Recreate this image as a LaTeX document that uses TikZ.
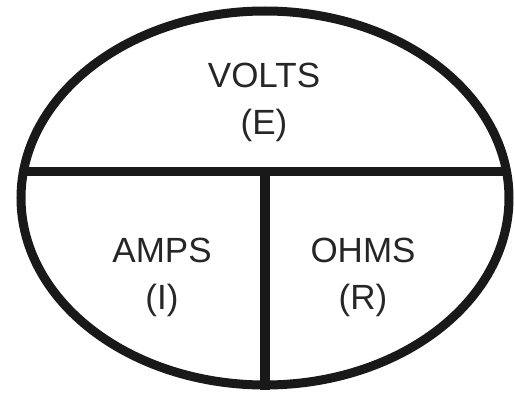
\documentclass[tikz,border=0pt]{standalone}
\usepackage{fontspec}
\setmainfont{Liberation Sans}
\usetikzlibrary{shapes.geometric}
\tikzset{
  outline/.style={draw=black!90, line width=9pt},
  bar/.style={draw=black!90, line width=9.5pt},
  lbl/.style={inner sep=0pt, align=center, text=black!85, font=\fontsize{35}{47}\selectfont}
}
\begin{document}
\begin{tikzpicture}[x=1pt,y=1pt]
\useasboundingbox (0,0) rectangle (515,392);
\node[outline, ellipse, minimum width=488pt, minimum height=374pt, inner sep=0pt] (ell) at (265,194) {};
\coordinate (hl) at (23.5,220.5);
\coordinate (hr) at (506.5,220.5);
\coordinate (hm) at (265,220.5);
\draw[bar] (hl) -- (hr);
\draw[bar] (hm) -- (ell.south);
\node[lbl] (volts) at (264,289.3) {VOLTS\\(E)};
\node[lbl] (amps) at (162,114.3) {AMPS\\(I)};
\node[lbl] (ohms) at (363,114.3) {OHMS\\(R)};
\end{tikzpicture}
\end{document}
